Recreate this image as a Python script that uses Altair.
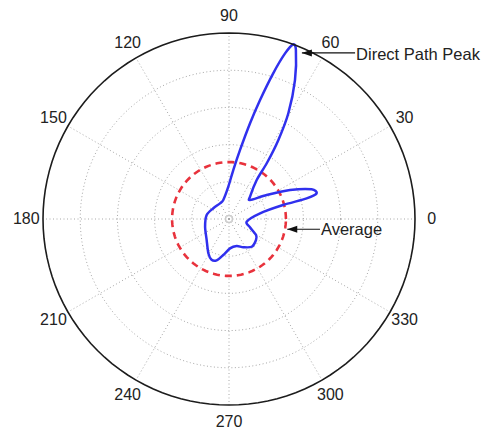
import altair as alt
import pandas as pd

# Measured response traced around the loop: bearing (degrees) and normalised magnitude
angle_deg = [-8.7, 10.4, 14.5, 14.9, 16.3, 19.8, 25.4, 32.5, 42.0, 46.7,
             54.6, 55.9, 58.0, 60.7, 64.6, 68.4, 69.8, 71.3, 73.1, 75.4,
             77.6, 80.9, 85.0, 91.2, 106.7, 119.8, 145.7, 169.8, 197.8, 223.3,
             238.9, 246.8, 253.3, 261.0, 272.0, 285.9, 296.8, 309.3, 322.1, 329.4,
             338.4]
magnitude = [0.096, 0.17, 0.30, 0.432, 0.491, 0.472, 0.363, 0.24, 0.152, 0.165,
             0.257, 0.362, 0.50, 0.652, 0.827, 0.977, 1.0, 0.94, 0.82, 0.66,
             0.527, 0.376, 0.264, 0.174, 0.107, 0.097, 0.102, 0.122, 0.135, 0.165,
             0.215, 0.238, 0.232, 0.196, 0.158, 0.151, 0.17, 0.193, 0.184, 0.169,
             0.121]

average_level = 0.306
grid_levels = [0.2, 0.4, 0.6, 0.8]
outer_level = 1.0
spoke_angles = [0, 30, 60, 90, 120, 150, 180, 210, 240, 270, 300, 330]
tick_labels = ["0", "30", "60", "90", "120", "150", "180", "210", "240", "270", "300", "330"]
label_radius = 1.09

annot_text = ["Direct Path Peak", "Average"]
annot_tip_angle = [66.3, -10.0]
annot_tip_r = [0.975, 0.318]
annot_arrow_len = [0.286, 0.176]
annot_text_dy = [2, 1]

# plot geometry: pixels per unit radius and centre position
W, H = 483, 435
R_PX = 186
CX, CY = 229, 219
x_scale = alt.Scale(domain=[-CX / R_PX, (W - CX) / R_PX], nice=False, zero=False)
y_scale = alt.Scale(domain=[-(H - CY) / R_PX, CY / R_PX], nice=False, zero=False)

FONT = "Liberation Sans"


def to_xy(chart, a="angle", r="r", px="px", py="py"):
    return chart.transform_calculate(
        **{px: f"datum.{r} * cos(datum.{a} * PI / 180)",
           py: f"datum.{r} * sin(datum.{a} * PI / 180)"}
    )


def xy_enc(px="px", py="py"):
    return dict(
        x=alt.X(f"{px}:Q", scale=x_scale, axis=None),
        y=alt.Y(f"{py}:Q", scale=y_scale, axis=None),
    )


# circles (grid rings, outer boundary, average level) drawn as closed polylines
ring_angles = list(range(0, 361, 3))


def ring_frame(levels):
    return pd.DataFrame(
        [{"level": lv, "angle": a, "r": lv} for lv in levels for a in ring_angles]
    )


grid = to_xy(alt.Chart(ring_frame(grid_levels))).mark_line(
    color="#a8a8a8", strokeWidth=1, strokeDash=[1, 2.5]
).encode(**xy_enc(), detail="level:N", order="angle:Q")

spokes_df = pd.DataFrame({"angle": spoke_angles, "r": outer_level})
spokes = to_xy(alt.Chart(spokes_df)).transform_calculate(x0="0", y0="0").mark_rule(
    color="#a8a8a8", strokeWidth=1, strokeDash=[1, 2.5]
).encode(
    x=alt.X("x0:Q", scale=x_scale, axis=None),
    y=alt.Y("y0:Q", scale=y_scale, axis=None),
    x2="px:Q",
    y2="py:Q",
)

centre = alt.Chart(pd.DataFrame({"px": [0.0], "py": [0.0]})).mark_point(
    shape="circle", size=45, filled=False, color="#9a9a9a", strokeWidth=0.8
).encode(**xy_enc())

outer = to_xy(alt.Chart(ring_frame([outer_level]))).mark_line(
    color="#1c1c1c", strokeWidth=1.6
).encode(**xy_enc(), order="angle:Q")

average = to_xy(alt.Chart(ring_frame([average_level]))).mark_line(
    color="#e8323c", strokeWidth=2.6, strokeDash=[7, 5]
).encode(**xy_enc(), order="angle:Q")

resp_df = pd.DataFrame({"angle": angle_deg, "r": magnitude, "idx": range(len(angle_deg))})
response = to_xy(alt.Chart(resp_df)).mark_line(
    color="#3030ee", strokeWidth=2.5, interpolate="cardinal-closed", tension=0.2
).encode(**xy_enc(), order="idx:Q")

labels_df = pd.DataFrame({"angle": spoke_angles, "r": label_radius, "label": tick_labels})
labels = to_xy(alt.Chart(labels_df)).mark_text(
    font=FONT, fontSize=16, color="#222222", align="center", baseline="middle"
).encode(**xy_enc(), text="label:N")

# annotation arrows: tip on the plot, tail extending to the right into the label
ann_df = pd.DataFrame({
    "text": annot_text,
    "angle": annot_tip_angle,
    "r": annot_tip_r,
    "len": annot_arrow_len,
})
ann_base = to_xy(alt.Chart(ann_df)).transform_calculate(tail="datum.px + datum.len")

arrow_line = ann_base.mark_rule(color="#111111", strokeWidth=1.2).encode(
    **xy_enc(), x2="tail:Q"
)
arrow_head = ann_base.mark_point(
    shape="M0,0L2,-0.7L2,0.7Z", size=100, filled=True, color="#111111", opacity=1
).encode(**xy_enc())


def ann_label(i):
    return ann_base.transform_filter(alt.datum.text == annot_text[i]).mark_text(
        font=FONT, fontSize=16.5, color="#222222", align="left", baseline="middle",
        dx=1, dy=annot_text_dy[i]
    ).encode(x=alt.X("tail:Q", scale=x_scale, axis=None),
             y=alt.Y("py:Q", scale=y_scale, axis=None), text="text:N")


chart = alt.layer(
    grid, spokes, centre, average, response, outer, labels,
    arrow_line, arrow_head, ann_label(0), ann_label(1),
).properties(
    width=W, height=H, padding=0, autosize=alt.AutoSizeParams(type="none"),
    background="white",
).configure_view(stroke=None)

chart.save("out.html", embed_options={"renderer": "svg", "actions": False})
